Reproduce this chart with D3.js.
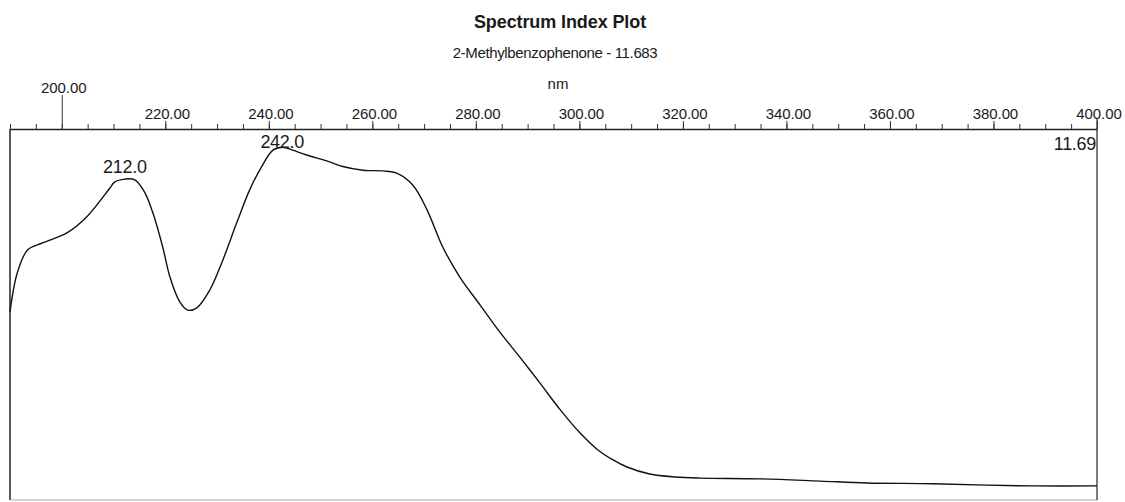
<!DOCTYPE html>
<html>
<head>
<meta charset="utf-8">
<script src="https://cdn.jsdelivr.net/npm/d3@7"></script>
<style>
  html, body { margin: 0; padding: 0; background: #fff; }
  svg { display: block; }
  text { font-family: "Liberation Sans", Arial, sans-serif; fill: #1a1a1a; }
</style>
</head>
<body>
<svg id="chart" width="1125" height="502"></svg>
<script>
// ---- data ----
const titleText = "Spectrum Index Plot";
const subtitleText = "2-Methylbenzophenone - 11.683";
const xAxisLabel = "nm";
const retentionLabel = "11.69";

const wavelengths = [190.0, 191.4, 193.4, 196.3, 201.0, 204.8, 209.3, 210.2, 212.2, 214.1,
  216.0, 217.6, 219.5, 220.9, 222.8, 224.3, 226.1, 228.6, 230.9, 233.8,
  236.3, 238.6, 240.8, 242.7, 244.6, 247.3, 251.2, 254.3, 258.2, 262.0,
  264.7, 267.8, 270.5, 273.6, 276.9, 280.8, 284.6, 288.5, 292.4, 296.2,
  300.1, 303.4, 306.5, 309.2, 313.6, 318.5, 323.3, 334.9, 346.5, 355.6,
  368.3, 378.7, 387.6, 400.0];
const absorbance = [50.7, 61.2, 67.4, 69.3, 72.0, 76.3, 84.1, 85.7, 86.5, 86.3,
  83.0, 77.4, 68.2, 60.1, 53.4, 51.2, 51.8, 56.6, 63.9, 74.7,
  83.6, 89.8, 94.3, 95.1, 94.3, 93.0, 91.4, 89.9, 88.9, 88.7,
  88.1, 84.9, 78.4, 68.2, 60.1, 52.6, 45.3, 38.5, 31.5, 24.5,
  18.1, 13.7, 10.8, 8.9, 7.0, 6.2, 5.9, 5.7, 5.1, 4.6,
  4.4, 4.0, 3.8, 3.8];

const peakWavelengths = [212.0, 242.0];
const peakValues = [86.5, 95.1];

const majorTicks = [200, 220, 240, 260, 280, 300, 320, 340, 360, 380, 400];
const minorTicks = d3.range(190, 401, 5);

// ---- layout ----
const svg = d3.select("#chart");
const plotLeft = 10, plotRight = 1097, plotTop = 129, plotBottom = 500;

const x = d3.scaleLinear().domain([190, 400]).range([plotLeft, plotRight]);
const y = d3.scaleLinear().domain([0, 100]).range([plotBottom, plotTop]);

// titles
svg.append("text").attr("x", 560).attr("y", 28).attr("text-anchor", "middle")
  .style("font-size", "18px").style("font-weight", "bold").style("letter-spacing", "-0.1px")
  .text(titleText);
svg.append("text").attr("x", 555).attr("y", 58).attr("text-anchor", "middle")
  .style("font-size", "15px").style("letter-spacing", "-0.35px")
  .text(subtitleText);
svg.append("text").attr("x", 558).attr("y", 89).attr("text-anchor", "middle")
  .style("font-size", "15px")
  .text(xAxisLabel);

// frame
svg.append("line").attr("x1", plotLeft).attr("x2", plotLeft).attr("y1", plotTop).attr("y2", plotBottom)
  .attr("stroke", "#222").attr("stroke-width", 1.5);
svg.append("line").attr("x1", plotLeft).attr("x2", plotRight).attr("y1", plotBottom).attr("y2", plotBottom)
  .attr("stroke", "#aaa").attr("stroke-width", 1.2);
svg.append("line").attr("x1", plotRight).attr("x2", plotRight).attr("y1", plotTop - 11).attr("y2", plotBottom)
  .attr("stroke", "#444").attr("stroke-width", 1.4);

// minor ticks axis
const gMinor = svg.append("g").attr("transform", `translate(0,${plotTop})`)
  .call(d3.axisTop(x).tickValues(minorTicks).tickSize(5).tickSizeOuter(0).tickFormat(""));
gMinor.select(".domain").attr("stroke", "#222").attr("stroke-width", 1.6);
gMinor.selectAll(".tick line").attr("stroke", "#333").attr("stroke-width", 1);

// major ticks axis
const gMajor = svg.append("g").attr("transform", `translate(0,${plotTop})`)
  .call(d3.axisTop(x).tickValues(majorTicks).tickSize(8).tickPadding(2).tickFormat(d3.format(".2f")));
gMajor.select(".domain").remove();
gMajor.selectAll(".tick line").attr("stroke", "#333").attr("stroke-width", 1);
gMajor.selectAll(".tick text")
  .attr("dx", 1.5)
  .style("font-family", "'Liberation Sans', Arial, sans-serif")
  .style("font-size", "15px").style("letter-spacing", "-0.1px").attr("fill", "#1a1a1a");
// 200 tick drawn long with raised label
gMajor.selectAll(".tick").filter(d => d === 200).each(function() {
  const t = d3.select(this);
  t.select("line").attr("y2", -34);
  t.select("text").attr("y", -36);
});

// spectrum line
const pts = wavelengths.map((w, i) => [w, absorbance[i]]);
svg.append("path").datum(pts)
  .attr("fill", "none").attr("stroke", "#111").attr("stroke-width", 1.4)
  .attr("stroke-linejoin", "round")
  .attr("d", d3.line().x(d => x(d[0])).y(d => y(d[1])).curve(d3.curveCatmullRom.alpha(0.5)));

// peak labels
const peakDy = [-6, 1];
svg.selectAll(".peak").data(peakWavelengths).enter().append("text")
  .attr("class", "peak")
  .attr("x", (d, i) => x(d) + (i === 0 ? 1 : 3))
  .attr("y", (d, i) => y(peakValues[i]) + peakDy[i])
  .attr("text-anchor", "middle")
  .style("font-size", "18px").style("letter-spacing", "-0.3px")
  .text(d => d.toFixed(1));

// retention time label
svg.append("text").attr("x", plotRight - 1).attr("y", 150).attr("text-anchor", "end")
  .style("font-size", "18px").style("letter-spacing", "-0.3px")
  .text(retentionLabel);
</script>
</body>
</html>
